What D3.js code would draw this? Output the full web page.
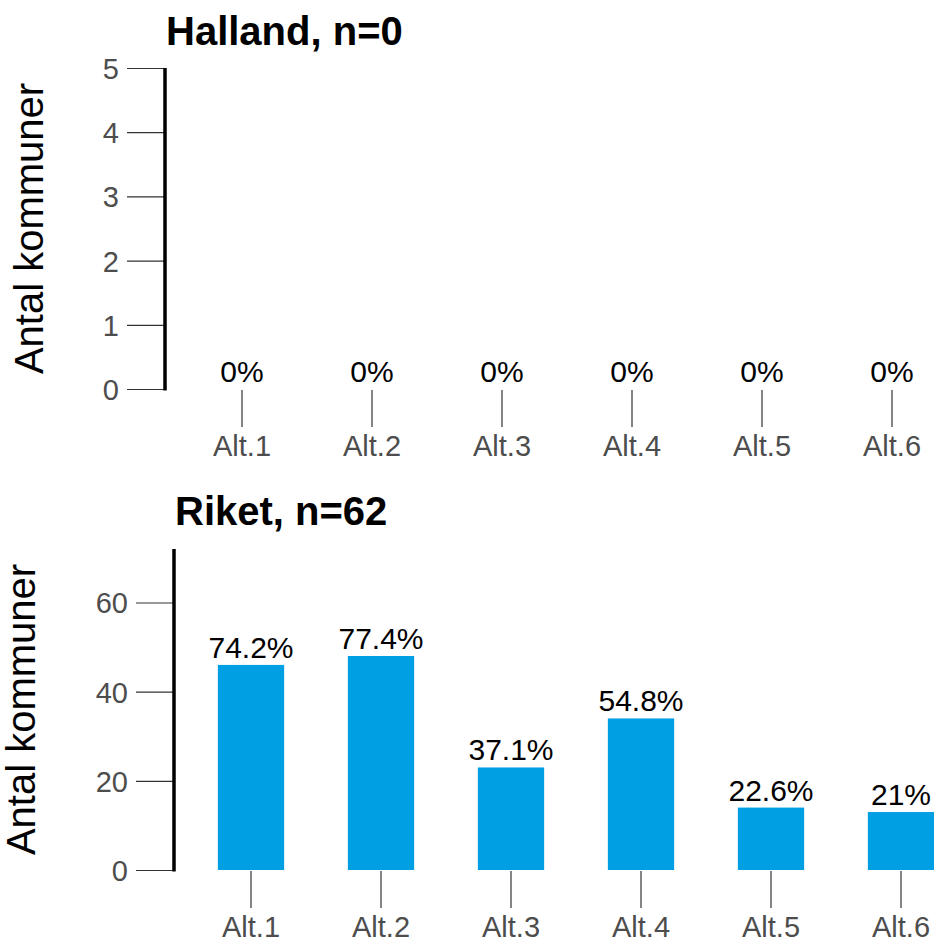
<!DOCTYPE html>
<html>
<head>
<meta charset="utf-8">
<script src="https://cdn.jsdelivr.net/npm/d3@7"></script>
<style>
  html, body { margin: 0; padding: 0; background: #fff; }
  svg { display: block; font-family: "Liberation Sans", Arial, sans-serif; }
</style>
</head>
<body>
<svg id="chart" width="934" height="943"></svg>
<script>
const categories = ["Alt.1", "Alt.2", "Alt.3", "Alt.4", "Alt.5", "Alt.6"];
const hallandValues = [0, 0, 0, 0, 0, 0];
const hallandLabels = ["0%", "0%", "0%", "0%", "0%", "0%"];
const riketValues = [46, 48, 23, 34, 14, 13];
const riketLabels = ["74.2%", "77.4%", "37.1%", "54.8%", "22.6%", "21%"];
const hallandTicks = [0, 1, 2, 3, 4, 5];
const riketTicks = [0, 20, 40, 60];
const panels = [
  { title: "Halland, n=0", values: hallandValues, labels: hallandLabels, ticks: hallandTicks,
    yMax: 5, axisX: 165, top: 68, bottom: 389, titleY: 45, ylabX: 43 },
  { title: "Riket, n=62", values: riketValues, labels: riketLabels, ticks: riketTicks,
    yMax: 72, axisX: 174, top: 549, bottom: 870, titleY: 525, ylabX: 35 }
];

const svg = d3.select("#chart");
const step = 130;

panels.forEach(p => {
  const g = svg.append("g");
  const y = d3.scaleLinear().domain([0, p.yMax]).range([p.bottom, p.top]);
  const start = p.axisX + 12;
  const x = d3.scaleBand().domain(categories)
    .range([start, start + step * categories.length])
    .paddingInner(0.49).paddingOuter(0.245);

  // title
  g.append("text")
    .attr("x", p.axisX + 1).attr("y", p.titleY)
    .attr("font-size", 40).attr("font-weight", "bold").attr("fill", "#000")
    .text(p.title);

  // y axis label
  g.append("text")
    .attr("transform", `translate(${p.ylabX},${(p.top + p.bottom) / 2}) rotate(-90)`)
    .attr("text-anchor", "middle")
    .attr("font-size", 40).attr("fill", "#000")
    .text("Antal kommuner");

  // y axis
  const yAxis = d3.axisLeft(y).tickValues(p.ticks).tickFormat(d3.format("d"))
    .tickSize(38).tickPadding(8).tickSizeOuter(0);
  const ya = g.append("g").attr("transform", `translate(${p.axisX},0)`).call(yAxis);
  ya.select(".domain").remove();
  ya.selectAll(".tick line").attr("stroke", "#333").attr("stroke-width", 1.2);
  ya.selectAll(".tick text").attr("font-size", 29).attr("fill", "#4d4d4d")
    .attr("font-family", "Liberation Sans, Arial, sans-serif").attr("dy", "0.36em");
  g.append("line")
    .attr("x1", p.axisX).attr("x2", p.axisX)
    .attr("y1", p.top).attr("y2", p.bottom + 1.5)
    .attr("stroke", "#000").attr("stroke-width", 3.5);

  // x axis (ticks only)
  const xAxis = d3.axisBottom(x).tickSize(37).tickPadding(8).tickSizeOuter(0);
  const xa = g.append("g").attr("transform", `translate(0,${p.bottom + 1})`).call(xAxis);
  xa.select(".domain").remove();
  xa.selectAll(".tick line").attr("stroke", "#333").attr("stroke-width", 1.2);
  xa.selectAll(".tick text").attr("font-size", 29).attr("fill", "#4d4d4d")
    .attr("font-family", "Liberation Sans, Arial, sans-serif");

  // bars
  g.selectAll("rect.bar").data(p.values).enter().append("rect")
    .attr("class", "bar")
    .attr("x", (d, i) => x(categories[i]))
    .attr("width", x.bandwidth())
    .attr("y", d => y(d))
    .attr("height", d => y(0) - y(d))
    .attr("fill", "#009fe3");

  // value labels
  g.selectAll("text.val").data(p.values).enter().append("text")
    .attr("class", "val")
    .attr("x", (d, i) => x(categories[i]) + x.bandwidth() / 2)
    .attr("y", d => y(d) - 7)
    .attr("text-anchor", "middle")
    .attr("font-size", 30).attr("fill", "#000")
    .text((d, i) => p.labels[i]);
});
</script>
</body>
</html>
